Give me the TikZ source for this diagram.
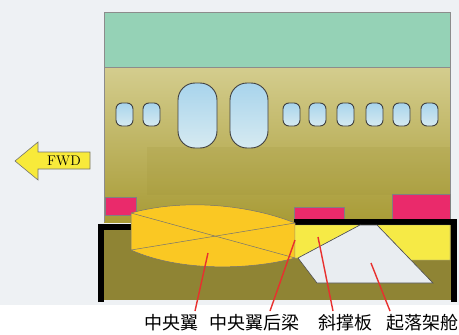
\documentclass[tikz,border=0pt]{standalone}
\usepackage{fontspec}
\usepackage{tikz}
\usetikzlibrary{positioning, calc}
\newfontfamily\cjk{Noto Sans CJK SC}
\definecolor{skyColor}{RGB}{238, 241, 244}
\definecolor{roofColor}{RGB}{149, 210, 182}
\definecolor{hullTop}{RGB}{212, 205, 142}
\definecolor{hullMid}{RGB}{190, 178, 78}
\definecolor{hullLow}{RGB}{168, 155, 54}
\definecolor{bayColor}{RGB}{143, 132, 52}
\definecolor{wingColor}{RGB}{250, 200, 35}
\definecolor{braceColor}{RGB}{246, 234, 70}
\definecolor{wellColor}{RGB}{233, 237, 241}
\definecolor{padColor}{RGB}{234, 42, 107}
\definecolor{glassTop}{RGB}{168, 212, 236}
\definecolor{glassLow}{RGB}{214, 234, 241}
\definecolor{leaderColor}{RGB}{232, 48, 46}
\definecolor{fwdColor}{RGB}{248, 234, 58}

\begin{document}
\begin{tikzpicture}[x=1pt, y=-1pt,
        win/.style={draw=black!75, line width=0.9pt, top color=glassTop, bottom color=glassLow, rounded corners=6pt},
        bigwin/.style={win, rounded corners=17pt},
        pad/.style={fill=padColor, draw=black!50, line width=0.4pt},
        frame/.style={draw=black, line width=6pt},
        leader/.style={draw=leaderColor, line width=1.4pt},
        tag/.style={font=\cjk\fontsize{18pt}{20pt}\selectfont, inner sep=0pt}
    ]
    \useasboundingbox (0,0) rectangle (459,335);
    \fill[skyColor] (0,0) rectangle (459,305);
    \fill[white] (0,305) rectangle (459,335);

    % Fuselage side
    \fill[roofColor] (104,12) rectangle (450,67);
    \shade[top color=hullTop, middle color=hullMid, bottom color=hullLow] (104,67) rectangle (450,222);
    \fill[hullLow!92!black, opacity=0.15] (147,147) rectangle (450,195);
    \draw[black!45, line width=0.6pt] (104,222) -- (104,12) -- (450,12) -- (450,222);
    \draw[black!45, line width=0.5pt] (104,67) -- (450,67);

    % Windows
    \foreach \wx in {116,143,283,309,337,366,393,421}
        \draw[win] (\wx,103) rectangle ++(17,23);
    \draw[bigwin] (178,83) rectangle (217,148);
    \draw[bigwin] (230,83) rectangle (268,148);

    % Lower bay
    \fill[bayColor] (100,225) rectangle (454,300);
    \draw[pad] (105,197) rectangle (136,215);
    \draw[pad] (294,207) rectangle (344,220);
    \draw[pad] (392,194) rectangle (450,220);
    \draw[frame] (100.5,302) -- (100.5,227) -- (131,227);
    \draw[frame] (294,222) -- (454,222) -- (454,302);

    % Center wing box
    \draw[fill=wingColor, draw=black!55, line width=0.5pt]
        (131,213) .. controls (185,198) and (250,205) .. (295,223)
        -- (295,258) .. controls (250,270) and (180,272) .. (131,250) -- cycle;
    \draw[black!55, line width=0.5pt] (131,213) -- (295,258);
    \draw[black!55, line width=0.5pt] (131,250) -- (295,223);

    % Brace panels and gear well
    \draw[fill=braceColor, draw=black!45, line width=0.4pt] (295,225) -- (360,225) -- (298,258) -- (295,258) -- cycle;
    \draw[fill=braceColor, draw=black!45, line width=0.4pt] (377,225) -- (450,225) -- (450,260) -- (411,260) -- cycle;
    \draw[fill=wellColor, draw=black!70, line width=0.6pt] (360,225) -- (377,225) -- (433,283) -- (317,283) -- (298,258) -- cycle;

    % FWD arrow
    \draw[fill=fwdColor, draw=black!55, line width=0.6pt]
        (15,161) -- (38,142) -- (38,152) -- (90,152) -- (90,169) -- (38,169) -- (38,180) -- cycle;
    \node (fwd) at (64,161) {\fontsize{14pt}{16pt}\selectfont FWD};

    % Labels
    \node[tag] (wing) at (171,323) {中央翼};
    \node[tag] (spar) at (254,323) {中央翼后梁};
    \node[tag] (brace) at (345,323) {斜撑板};
    \node[tag] (well) at (422,323) {起落架舱};

    % Leaders
    \coordinate (wingTip) at (208,253);
    \coordinate (wingFoot) at (195,311);
    \coordinate (sparTip) at (295,240);
    \coordinate (sparFoot) at (270,311);
    \coordinate (braceTip) at (318,237);
    \coordinate (braceFoot) at (333,311);
    \coordinate (wellTip) at (371,263);
    \coordinate (wellFoot) at (390,311);
    \path[leader] (wingTip) -- (wingFoot);
    \path[leader] (sparTip) -- (sparFoot);
    \path[leader] (braceTip) -- (braceFoot);
    \path[leader] (wellTip) -- (wellFoot);
\end{tikzpicture}
\end{document}
